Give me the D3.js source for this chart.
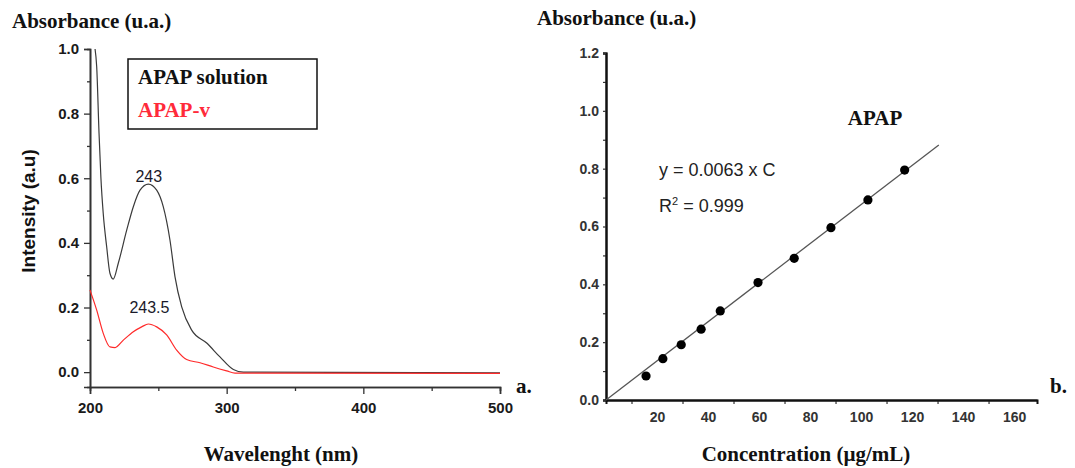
<!DOCTYPE html>
<html lang="en">
<head>
    <meta charset="UTF-8">
    <script src="https://d3js.org/d3.v7.min.js"></script>
    <title>APAP absorbance</title>
    <style>
        body { margin: 0; background: #fff; }
        text.serif {
            font-family: 'Liberation Serif', 'Times New Roman', serif;
            font-weight: bold;
            font-size: 21px;
            fill: #111;
        }
        .axisA text { font-family: 'Liberation Sans', Arial, sans-serif; font-weight: bold; font-size: 15px; fill: #1a1a1a; }
        .axisB text { font-family: 'Liberation Sans', Arial, sans-serif; font-weight: bold; font-size: 14px; fill: #333; }
    </style>
</head>
<body>
<svg height="468" width="1075"></svg>
<script>
    // panel a: UV spectra
    const solutionWl  = [203.7, 204.9, 206.6, 208.0, 209.7, 212.2, 214.6, 217.0, 220.7, 226.9, 231.7, 236.6, 242.7, 248.8, 253.6, 258.5, 262.2, 267.1, 274.4, 285.4, 295.1, 304.9, 312.2, 500];
    const solutionAbs = [1.0, 0.945, 0.74, 0.6, 0.49, 0.388, 0.306, 0.288, 0.337, 0.44, 0.512, 0.563, 0.582, 0.563, 0.512, 0.409, 0.295, 0.202, 0.13, 0.09, 0.047, 0.008, 0.0, -0.002];
    const apapvWl  = [200, 204.9, 209.7, 214.6, 218.3, 224.4, 231.7, 237.8, 242.7, 248.8, 256.1, 263.4, 270.7, 280.5, 290.2, 300, 306.1, 500];
    const apapvAbs = [0.254, 0.192, 0.12, 0.078, 0.076, 0.099, 0.125, 0.14, 0.149, 0.14, 0.115, 0.068, 0.039, 0.029, 0.016, 0.004, -0.003, -0.004];
    const wlTicks = [200, 300, 400, 500];
    const intensityTicks = [0.0, 0.2, 0.4, 0.6, 0.8, 1.0];

    // panel b: calibration curve
    const concentration = [15.7, 22.3, 29.5, 37.3, 44.8, 59.6, 73.8, 88.2, 102.7, 117.1];
    const absorbance    = [0.083, 0.143, 0.191, 0.245, 0.308, 0.406, 0.49, 0.596, 0.692, 0.795];
    const fitC = [0, 130.5];
    const fitA = [0, 0.882];
    const concTicks = [20, 40, 60, 80, 100, 120, 140, 160];
    const absTicks = [0.0, 0.2, 0.4, 0.6, 0.8, 1.0, 1.2];

    const svg = d3.select("svg");

    // ---------- panel a ----------
    const xA = d3.scaleLinear().domain([200, 500]).range([90, 500]);
    const yA = d3.scaleLinear().domain([-0.046, 1.0]).range([387, 49]);

    const gA = svg.append("g");
    gA.append("g").attr("class", "axisA").attr("transform", "translate(0,387)")
        .call(d3.axisBottom(xA).tickValues(d3.range(250, 500, 100)).tickSize(4).tickFormat(""));
    gA.append("g").attr("class", "axisA").attr("transform", "translate(0,387)")
        .call(d3.axisBottom(xA).tickValues(wlTicks).tickSize(7).tickPadding(8).tickFormat(d3.format("d")));
    gA.append("g").attr("class", "axisA").attr("transform", "translate(90,0)")
        .call(d3.axisLeft(yA).tickValues(d3.range(0.1, 1.0, 0.2)).tickSize(3).tickFormat(""));
    gA.append("g").attr("class", "axisA").attr("transform", "translate(90,0)")
        .call(d3.axisLeft(yA).tickValues(intensityTicks).tickSize(6).tickPadding(5).tickFormat(d3.format(".1f")));
    gA.selectAll(".domain").attr("stroke", "#333").attr("stroke-width", 1.6);
    gA.selectAll(".tick line").attr("stroke", "#333").attr("stroke-width", 1.3);

    const lineA = d3.line().x(d => xA(d[0])).y(d => yA(d[1])).curve(d3.curveMonotoneX);
    gA.append("path").datum(d3.zip(solutionWl, solutionAbs))
        .attr("d", lineA).attr("fill", "none").attr("stroke", "#3a3a3a").attr("stroke-width", 1.2);
    gA.append("path").datum(d3.zip(apapvWl, apapvAbs))
        .attr("d", lineA).attr("fill", "none").attr("stroke", "#ff2a2a").attr("stroke-width", 1.2);

    const sans = "'Liberation Sans', Arial, sans-serif";
    gA.append("text").attr("x", xA(243)).attr("y", 182).attr("text-anchor", "middle")
        .style("font-family", sans).style("font-size", "16px").style("fill", "#1a1a2a").text("243");
    gA.append("text").attr("x", xA(243.5)).attr("y", 313).attr("text-anchor", "middle")
        .style("font-family", sans).style("font-size", "16px").style("fill", "#1a1a2a").text("243.5");

    // legend
    gA.append("rect").attr("x", 128).attr("y", 59).attr("width", 189).attr("height", 70)
        .attr("fill", "none").attr("stroke", "#111").attr("stroke-width", 1.5);
    gA.append("text").attr("class", "serif").attr("x", 138).attr("y", 84).text("APAP solution");
    gA.append("text").attr("class", "serif").attr("x", 138).attr("y", 117).style("fill", "#ff2a3a").text("APAP-v");

    gA.append("text").attr("class", "serif").attr("x", 12).attr("y", 28).text("Absorbance (u.a.)");
    gA.append("text").attr("class", "serif").attr("x", 281).attr("y", 461).attr("text-anchor", "middle").text("Wavelenght (nm)");
    gA.append("text").attr("class", "serif").attr("x", 516).attr("y", 393).text("a.");
    gA.append("text").attr("transform", "translate(35,211) rotate(-90)").attr("text-anchor", "middle")
        .style("font-family", sans).style("font-weight", "bold").style("font-size", "19px").style("fill", "#111")
        .text("Intensity (a.u)");

    // ---------- panel b ----------
    const xB = d3.scaleLinear().domain([0, 169]).range([606, 1037]);
    const yB = d3.scaleLinear().domain([0, 1.2]).range([400, 53]);

    const gB = svg.append("g");
    gB.append("g").attr("class", "axisB").attr("transform", "translate(0,400)")
        .call(d3.axisBottom(xB).tickValues(d3.range(10, 160, 20)).tickSize(4).tickFormat(""));
    gB.append("g").attr("class", "axisB").attr("transform", "translate(0,400)")
        .call(d3.axisBottom(xB).tickValues(concTicks).tickSize(0).tickPadding(12).tickFormat(d3.format("d")));
    gB.append("g").attr("class", "axisB").attr("transform", "translate(606,0)")
        .call(d3.axisLeft(yB).tickValues(d3.range(0.1, 1.2, 0.2)).tickSize(3).tickFormat(""));
    gB.append("g").attr("class", "axisB").attr("transform", "translate(606,0)")
        .call(d3.axisLeft(yB).tickValues(absTicks).tickSize(3).tickPadding(4).tickFormat(d3.format(".1f")));
    gB.selectAll(".domain").attr("stroke", "#111").attr("stroke-width", 2);
    gB.selectAll(".tick line").attr("stroke", "#333").attr("stroke-width", 1.2);

    gB.append("path").datum(d3.zip(fitC, fitA))
        .attr("d", d3.line().x(d => xB(d[0])).y(d => yB(d[1])))
        .attr("fill", "none").attr("stroke", "#555").attr("stroke-width", 1.3);
    gB.selectAll("circle").data(d3.zip(concentration, absorbance)).enter().append("circle")
        .attr("cx", d => xB(d[0])).attr("cy", d => yB(d[1])).attr("r", 4.6).attr("fill", "#000");

    gB.append("text").attr("class", "serif").attr("x", 875).attr("y", 125).attr("text-anchor", "middle").text("APAP");
    gB.append("text").attr("x", 659).attr("y", 176)
        .style("font-family", sans).style("font-size", "18px").style("fill", "#222").text("y = 0.0063 x C");
    const r2 = gB.append("text").attr("x", 659).attr("y", 212)
        .style("font-family", sans).style("font-size", "18px").style("fill", "#222");
    r2.append("tspan").text("R");
    r2.append("tspan").attr("dy", -7).style("font-size", "11px").text("2");
    r2.append("tspan").attr("dy", 7).text(" = 0.999");

    gB.append("text").attr("class", "serif").attr("x", 537).attr("y", 25).text("Absorbance (u.a.)");
    gB.append("text").attr("class", "serif").attr("x", 806).attr("y", 461).attr("text-anchor", "middle").text("Concentration (µg/mL)");
    gB.append("text").attr("class", "serif").attr("x", 1050).attr("y", 393).text("b.");
</script>
</body>
</html>
